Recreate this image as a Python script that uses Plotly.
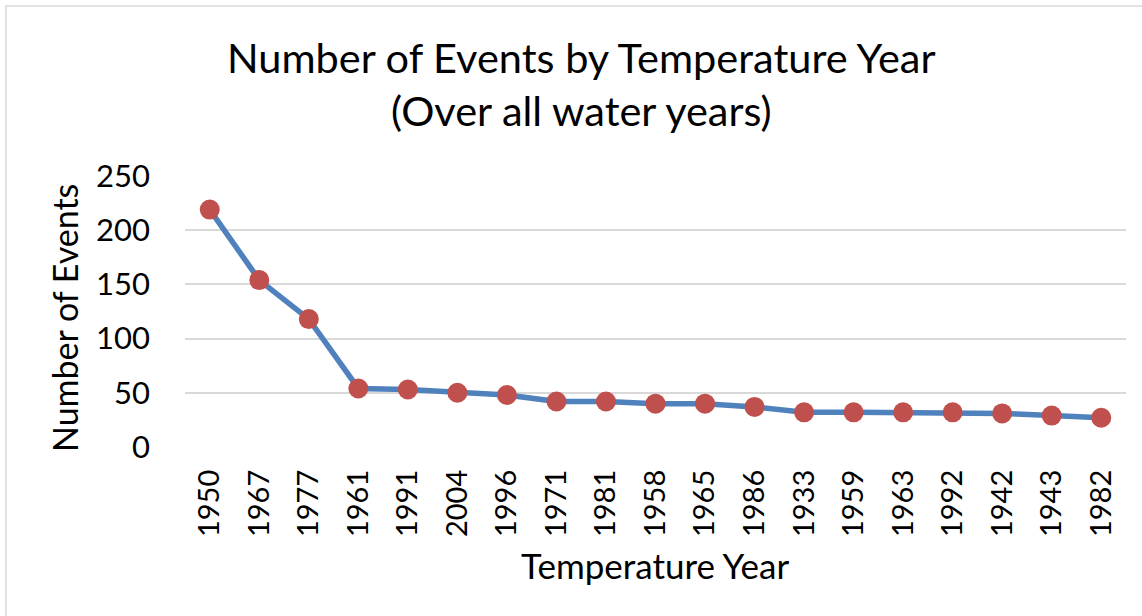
import plotly.graph_objects as go

years = ["1950", "1967", "1977", "1961", "1991", "2004", "1996", "1971", "1981", "1958",
         "1965", "1986", "1933", "1959", "1963", "1992", "1942", "1943", "1982"]
events = [219, 154, 118, 54, 53, 50, 48, 42, 42, 40, 40, 37, 32, 32, 32, 32, 31, 29, 27]

W, H = 1142, 616
ml, mr, mt, mb = 185, 16, 176, 169
pw, ph = W - ml - mr, H - mt - mb

def px(x):
    return (x - ml) / pw

def py(y):
    return (H - mb - y) / ph

font = "Lato, 'Open Sans', sans-serif"

fig = go.Figure(go.Scatter(
    x=years, y=events, mode="lines+markers",
    line=dict(color="#4F81BD", width=5.5),
    marker=dict(color="#C0504D", size=20),
    cliponaxis=False,
))

fig.update_layout(
    width=W, height=H,
    margin=dict(l=ml, r=mr, t=mt, b=mb, autoexpand=False),
    paper_bgcolor="white", plot_bgcolor="white",
    font=dict(family=font, color="black"),
    showlegend=False,
    xaxis=dict(type="category", range=[-0.5, len(years) - 0.5], automargin=False,
               tickangle=-90, tickfont=dict(size=29),
               showgrid=False, showline=False, ticks="", ticklabelstandoff=16),
    yaxis=dict(range=[0, 250], dtick=50, tickfont=dict(size=31), automargin=False,
               gridcolor="#D9D9D9", gridwidth=2, zeroline=False,
               showline=False, ticks="", ticklabelstandoff=34),
    annotations=[
        dict(text="Number of Events by Temperature Year", xref="paper", yref="paper",
             x=px(581), y=py(57), xanchor="center", yanchor="middle", showarrow=False,
             font=dict(size=41.5)),
        dict(text="(Over all water years)", xref="paper", yref="paper",
             x=px(581), y=py(110), xanchor="center", yanchor="middle", showarrow=False,
             font=dict(size=41.5)),
        dict(text="Temperature Year", xref="paper", yref="paper",
             x=px(655), y=py(565), xanchor="center", yanchor="middle", showarrow=False,
             font=dict(size=35)),
        dict(text="Number of Events", xref="paper", yref="paper", textangle=-90,
             x=px(64), y=py(318), xanchor="center", yanchor="middle", showarrow=False,
             font=dict(size=34)),
    ],
    shapes=[dict(type="rect", xref="paper", yref="paper",
                 x0=px(6), x1=px(1160), y0=py(640), y1=py(6),
                 line=dict(color="#D9D9D9", width=1.5), fillcolor="rgba(0,0,0,0)", layer="below")],
)

fig.write_html("out.html", config={"displayModeBar": False},
               post_script="document.body.style.margin='0';")
